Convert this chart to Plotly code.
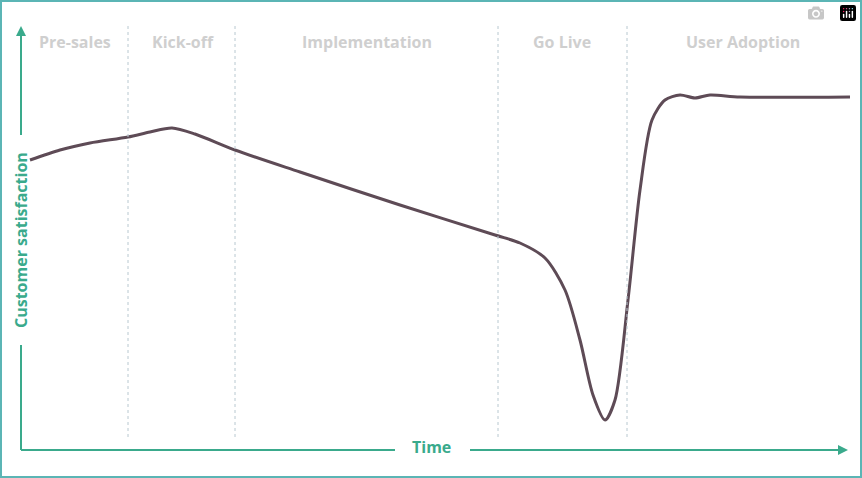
import plotly.graph_objects as go

# curve (time units = px from left, satisfaction = px from bottom)
time = [30, 60, 90, 128, 150, 172, 195, 235, 300, 400, 495, 520, 545, 565, 580, 593, 605, 615, 628, 640, 652, 665, 680, 695, 710, 740, 850]
satisfaction = [318, 328, 335, 341, 346, 350, 344, 328, 306, 273, 243, 235, 220, 188, 138, 83, 58, 78, 178, 288, 358, 378, 383, 380, 383, 381, 381]

phase_names = ["Pre-sales", "Kick-off", "Implementation", "Go Live", "User Adoption"]
phase_centers = [75, 183, 367, 562, 743]
phase_bounds = [128, 235, 498, 627]

GREEN = "#3aaa8c"
W, H = 862, 478

fig = go.Figure()
fig.add_trace(go.Scatter(x=time, y=satisfaction, mode="lines",
                         line=dict(color="#5e4b56", width=3, shape="spline", smoothing=0.8),
                         hoverinfo="skip"))

shapes = []
for b in phase_bounds:
    shapes.append(dict(type="line", x0=b, x1=b, y0=H - 437, y1=H - 25,
                       line=dict(color="#b8c8d0", width=1, dash="dot")))
# frame
shapes.append(dict(type="rect", xref="paper", yref="paper", x0=0, x1=1, y0=0, y1=1,
                   line=dict(color="#5bb5b5", width=4)))
# axes with gaps for labels
shapes.append(dict(type="line", x0=21, x1=21, y0=H - 450, y1=H - 345, line=dict(color=GREEN, width=2)))
shapes.append(dict(type="line", x0=21, x1=21, y0=H - 135, y1=H - 32, line=dict(color=GREEN, width=2)))
shapes.append(dict(type="line", x0=21, x1=395, y0=H - 450, y1=H - 450, line=dict(color=GREEN, width=2)))
shapes.append(dict(type="line", x0=470, x1=842, y0=H - 450, y1=H - 450, line=dict(color=GREEN, width=2)))

annotations = [dict(x=c, y=H - 42, text=n, showarrow=False,
                    font=dict(family="Open Sans", size=16, color="#cfcfcf", weight="bold"))
               for n, c in zip(phase_names, phase_centers)]
annotations.append(dict(x=21, y=H - 240, text="Customer satisfaction", textangle=-90, showarrow=False,
                        font=dict(family="Open Sans", size=16, color=GREEN, weight="bold")))
annotations.append(dict(x=431, y=H - 447, text="Time", showarrow=False,
                        font=dict(family="Open Sans", size=16, color=GREEN, weight="bold")))
# arrow heads
annotations.append(dict(x=21, y=H - 26, ax=21, ay=H - 45, xref="x", yref="y", axref="x", ayref="y",
                        text="", showarrow=True, arrowhead=2, arrowsize=1, arrowwidth=2, arrowcolor=GREEN))
annotations.append(dict(x=848, y=H - 450, ax=830, ay=H - 450, xref="x", yref="y", axref="x", ayref="y",
                        text="", showarrow=True, arrowhead=2, arrowsize=1, arrowwidth=2, arrowcolor=GREEN))

fig.update_layout(width=W, height=H, margin=dict(l=0, r=0, t=0, b=0),
                  plot_bgcolor="white", paper_bgcolor="white", showlegend=False,
                  xaxis=dict(range=[0, W], visible=False, fixedrange=True),
                  yaxis=dict(range=[0, H], visible=False, fixedrange=True),
                  shapes=shapes, annotations=annotations)
fig.write_html("out.html", post_script="document.body.style.margin='0';")
